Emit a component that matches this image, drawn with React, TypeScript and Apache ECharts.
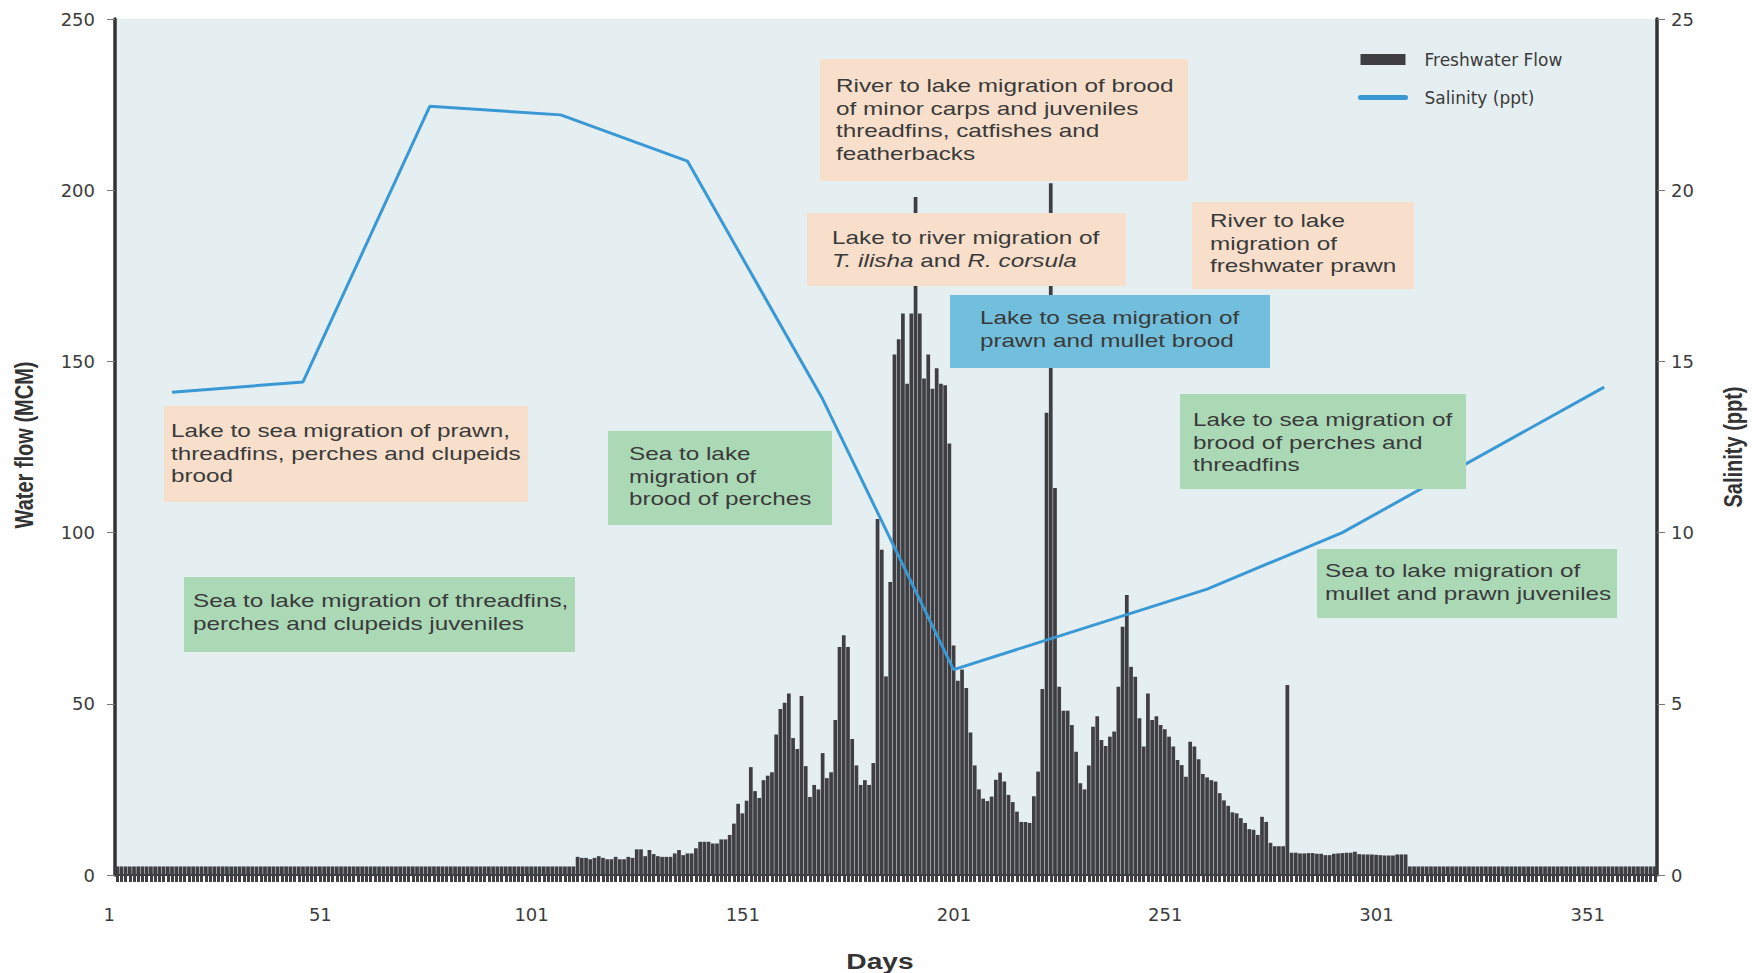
import React, { useEffect, useRef } from "react";
import * as echarts from "echarts";

// ---- data ----
const dayCategories: string[] = Array.from({ length: 365 }, (_, i) => String(i + 1));

// Freshwater flow (MCM), one value per day
const freshwaterFlow: number[] = [
  // days 1-109
  2.5, 2.5, 2.5, 2.5, 2.5, 2.5, 2.5, 2.5, 2.5, 2.5,
  2.5, 2.5, 2.5, 2.5, 2.5, 2.5, 2.5, 2.5, 2.5, 2.5,
  2.5, 2.5, 2.5, 2.5, 2.5, 2.5, 2.5, 2.5, 2.5, 2.5,
  2.5, 2.5, 2.5, 2.5, 2.5, 2.5, 2.5, 2.5, 2.5, 2.5,
  2.5, 2.5, 2.5, 2.5, 2.5, 2.5, 2.5, 2.5, 2.5, 2.5,
  2.5, 2.5, 2.5, 2.5, 2.5, 2.5, 2.5, 2.5, 2.5, 2.5,
  2.5, 2.5, 2.5, 2.5, 2.5, 2.5, 2.5, 2.5, 2.5, 2.5,
  2.5, 2.5, 2.5, 2.5, 2.5, 2.5, 2.5, 2.5, 2.5, 2.5,
  2.5, 2.5, 2.5, 2.5, 2.5, 2.5, 2.5, 2.5, 2.5, 2.5,
  2.5, 2.5, 2.5, 2.5, 2.5, 2.5, 2.5, 2.5, 2.5, 2.5,
  2.5, 2.5, 2.5, 2.5, 2.5, 2.5, 2.5, 2.5, 2.5,
  // days 110-146
  5.3, 5.0, 5.0, 4.6, 5.0, 5.5, 5.0, 4.6, 4.6, 5.3,
  4.6, 4.6, 5.3, 5.0, 7.5, 7.5, 5.5, 7.3, 6.1, 5.5,
  5.3, 5.3, 5.3, 6.3, 7.3, 5.8, 6.3, 6.3, 7.8, 9.7,
  9.7, 9.7, 9.2, 9.2, 10.4, 10.4, 11.7,
  // days 147-184
  15, 20.8, 18, 21.7, 31.5, 24.5, 22.5, 27.7, 29, 30,
  41, 48.5, 50.3, 53, 40, 36.8, 52.3, 31.8, 22.8, 26.3,
  25, 35.6, 28.3, 30, 45.3, 66.6, 70, 66.6, 39.7, 32,
  26.3, 27.7, 26.3, 32.7, 104, 95, 58, 85.6,
  // days 185-230
  152, 156.5, 164, 143.5, 164, 198, 164, 145, 152, 142,
  148, 143.5, 143, 126, 67, 56.7, 60, 54.6, 41.6, 32,
  25, 22.3, 21.6, 22.9, 27.8, 29.9, 27.3, 23.4, 21.3, 18.5,
  15.5, 15.5, 15.2, 23, 30.2, 54.3, 135, 202, 113, 55,
  48, 48, 43.8, 36, 26.8, 25,
  // days 231-278
  32, 43.3, 46.4, 39.4, 37.7, 40.4, 41.9, 55, 72.5, 81.8,
  60.8, 57.9, 45.8, 37.5, 53, 45.3, 46.4, 43.8, 42.6, 40.4,
  37.5, 33.6, 32.1, 28.7, 38.9, 37.5, 33.8, 29.5, 28.5, 27.7,
  27.3, 23.9, 21.8, 20.2, 18.3, 18, 16.6, 15.2, 13.4, 13.2,
  11.7, 17, 15.5, 9.4, 8.4, 8.4, 8.4, 55.5,
  // days 279-306
  6.5, 6.5, 6.3, 6.3, 6.4, 6.4, 6.2, 6.2, 5.8, 5.8,
  6.2, 6.3, 6.4, 6.5, 6.5, 6.8, 6.1, 6.0, 6.0, 6.0,
  5.9, 5.8, 5.7, 5.7, 5.7, 6.0, 6.0, 6.0,
  // days 307-365
  2.5, 2.5, 2.5, 2.5, 2.5, 2.5, 2.5, 2.5, 2.5, 2.5,
  2.5, 2.5, 2.5, 2.5, 2.5, 2.5, 2.5, 2.5, 2.5, 2.5,
  2.5, 2.5, 2.5, 2.5, 2.5, 2.5, 2.5, 2.5, 2.5, 2.5,
  2.5, 2.5, 2.5, 2.5, 2.5, 2.5, 2.5, 2.5, 2.5, 2.5,
  2.5, 2.5, 2.5, 2.5, 2.5, 2.5, 2.5, 2.5, 2.5, 2.5,
  2.5, 2.5, 2.5, 2.5, 2.5, 2.5, 2.5, 2.5, 2.5,
];

// Salinity (ppt) at the vertices of the line
const salinityDays: string[] = ["14", "45", "75", "106", "136", "168", "199", "259", "291", "353"];
const salinityValues: number[] = [14.1, 14.4, 22.45, 22.2, 20.85, 13.9, 6.0, 8.35, 10.0, 14.25];

const flowAxis = { min: 0, max: 250, interval: 50 };
const salinityAxis = { min: 0, max: 25, interval: 5 };

const seriesNames = ["Freshwater Flow", "Salinity (ppt)"];
const axisTitles = { x: "Days", yLeft: "Water flow (MCM)", yRight: "Salinity (ppt)" };

// annotation texts (kind decides the box colour)
const annotationTexts: { kind: string; text: string }[] = [
  { kind: "out", text: "Lake to sea migration of prawn,\nthreadfins, perches and clupeids\nbrood" },
  { kind: "in", text: "Sea to lake migration of threadfins,\nperches and clupeids juveniles" },
  { kind: "in", text: "Sea to lake\nmigration of\nbrood of perches" },
  { kind: "out", text: "River to lake migration of brood\nof minor carps and juveniles\nthreadfins, catfishes and\nfeatherbacks" },
  { kind: "out", text: "Lake to river migration of\n{i|T. ilisha} and {i|R. corsula}" },
  { kind: "out", text: "River to lake\nmigration of\nfreshwater prawn" },
  { kind: "sea", text: "Lake to sea migration of\nprawn and mullet brood" },
  { kind: "in", text: "Lake to sea migration of\nbrood of perches and\nthreadfins" },
  { kind: "in", text: "Sea to lake migration of\nmullet and prawn juveniles" },
];

// ---- layout (pixels) ----
const boxLayout = [
  { x: 164, y: 406, w: 364, h: 96, tx: 171, ty: 420 },
  { x: 184, y: 577, w: 391, h: 75, tx: 193, ty: 590 },
  { x: 608, y: 431, w: 224, h: 94, tx: 629, ty: 443 },
  { x: 820, y: 59, w: 368, h: 122, tx: 836, ty: 75 },
  { x: 807, y: 213, w: 319, h: 73, tx: 832, ty: 227 },
  { x: 1192, y: 202, w: 222, h: 87, tx: 1210, ty: 210 },
  { x: 950, y: 295, w: 320, h: 73, tx: 980, ty: 307 },
  { x: 1180, y: 394, w: 286, h: 95, tx: 1193, ty: 409 },
  { x: 1317, y: 549, w: 300, h: 69, tx: 1325, ty: 560 },
];
const boxColors: Record<string, string> = { out: "#f7dfcb", in: "#abd9b6", sea: "#71bfdc" };

const TEXT_FONT = "'Liberation Sans', Arial, sans-serif";
const LABEL_FONT = "'DejaVu Sans', 'Liberation Sans', sans-serif";
const TEXT_COLOR = "#3a3a3a";
const STRETCH = 1.35;

export default function App() {
  const ref = useRef<HTMLDivElement>(null);

  useEffect(() => {
    if (!ref.current) return;
    const chart = echarts.init(ref.current, null, { renderer: "svg" });

    const graphics: any[] = [];
    annotationTexts.forEach((a, i) => {
      const b = boxLayout[i];
      graphics.push({
        type: "rect",
        z: 100,
        shape: { x: b.x, y: b.y, width: b.w, height: b.h },
        style: { fill: boxColors[a.kind] },
      });
      graphics.push({
        type: "text",
        z: 101,
        x: b.tx,
        y: b.ty,
        scaleX: STRETCH,
        style: {
          text: a.text,
          fill: TEXT_COLOR,
          fontFamily: TEXT_FONT,
          fontSize: 18,
          lineHeight: 22.5,
          align: "left",
          verticalAlign: "top",
          textAlign: "left",
          textVerticalAlign: "top",
          rich: {
            i: { fontStyle: "italic", fontFamily: TEXT_FONT, fontSize: 18, lineHeight: 22.5, fill: TEXT_COLOR },
          },
        },
      });
    });

    const titleStyle = {
      fill: "#333",
      fontFamily: TEXT_FONT,
      fontWeight: "bold",
      fontSize: 20,
      align: "center",
      verticalAlign: "middle",
      textAlign: "center",
      textVerticalAlign: "middle",
    };
    graphics.push({
      type: "text",
      z: 101,
      x: 25,
      y: 445,
      rotation: Math.PI / 2,
      scaleY: 1.25,
      style: { ...titleStyle, text: axisTitles.yLeft },
    });
    graphics.push({
      type: "text",
      z: 101,
      x: 1734,
      y: 447,
      rotation: Math.PI / 2,
      scaleY: 1.25,
      style: { ...titleStyle, text: axisTitles.yRight },
    });
    graphics.push({
      type: "text",
      z: 101,
      x: 880,
      y: 961,
      scaleX: 1.28,
      style: { ...titleStyle, fontSize: 22, text: axisTitles.x },
    });

    const yLabel = { fontFamily: LABEL_FONT, fontSize: 18, color: "#3c3c3c" };

    chart.setOption({
      animation: false,
      backgroundColor: "#ffffff",
      grid: {
        left: 115,
        right: 95,
        top: 19,
        bottom: 98,
        show: true,
        backgroundColor: "#e5eef1",
        borderWidth: 0,
      },
      legend: {
        orient: "vertical",
        left: 1353,
        top: 46,
        itemWidth: 45,
        itemHeight: 11,
        itemGap: 21,
        z: 120,
        textStyle: { fontFamily: LABEL_FONT, fontSize: 17, color: "#3a3a3a", padding: [0, 0, 0, 14] },
        data: [
          { name: seriesNames[0], icon: "rect" },
          { name: seriesNames[1], itemStyle: { opacity: 0 }, lineStyle: { width: 5, cap: "round" } },
        ],
      },
      xAxis: {
        type: "category",
        data: dayCategories,
        boundaryGap: true,
        axisLine: { show: true, lineStyle: { color: "#3f3f43", width: 2 } },
        axisTick: {
          show: true,
          interval: 0,
          alignWithLabel: true,
          length: 7,
          lineStyle: { color: "#3f3f43", width: 3 },
        },
        axisLabel: {
          interval: 49,
          margin: 30,
          padding: [0, 16, 0, 0],
          fontFamily: LABEL_FONT,
          fontSize: 18,
          color: "#3c3c3c",
        },
        splitLine: { show: false },
      },
      yAxis: [
        {
          type: "value",
          position: "left",
          ...flowAxis,
          axisLine: { show: true, lineStyle: { color: "#333", width: 3.5 } },
          axisTick: { show: true, length: 8, lineStyle: { color: "#777", width: 1 } },
          axisLabel: { margin: 20, ...yLabel },
          splitLine: { show: false },
        },
        {
          type: "value",
          position: "right",
          ...salinityAxis,
          axisLine: { show: true, lineStyle: { color: "#333", width: 3.5 } },
          axisTick: { show: true, length: 8, lineStyle: { color: "#777", width: 1 } },
          axisLabel: { margin: 14, ...yLabel },
          splitLine: { show: false },
        },
      ],
      series: [
        {
          name: seriesNames[0],
          type: "bar",
          yAxisIndex: 0,
          data: freshwaterFlow,
          barCategoryGap: "12%",
          itemStyle: { color: "#3f3f43" },
        },
        {
          name: seriesNames[1],
          type: "line",
          yAxisIndex: 1,
          data: salinityDays.map((d, i) => [d, salinityValues[i]]),
          symbol: "none",
          lineStyle: { color: "#3a98d5", width: 3 },
          itemStyle: { color: "#3a98d5" },
          z: 5,
        },
      ],
      graphic: { elements: graphics },
    });

    return () => chart.dispose();
  }, []);

  return (
    <div
      ref={ref}
      style={{ position: "absolute", left: 0, top: 0, width: 1752, height: 973, background: "#fff" }}
    />
  );
}
